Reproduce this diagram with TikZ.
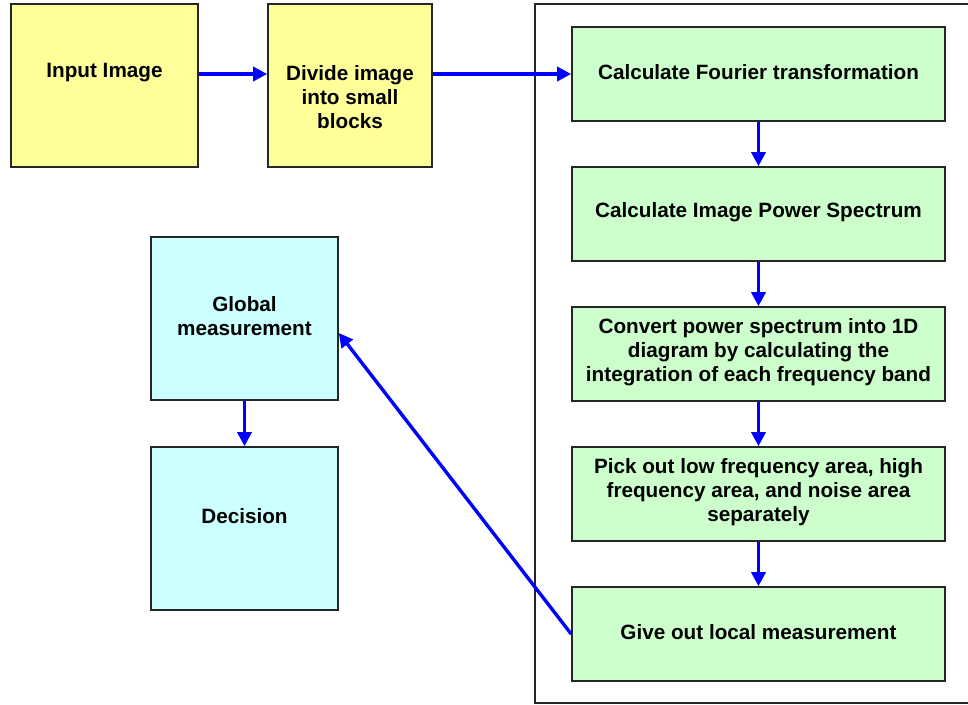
\documentclass[tikz,border=0pt]{standalone}
\usepackage{fontspec}
\setmainfont{Liberation Sans}
\usetikzlibrary{arrows.meta,calc}
\definecolor{boxyellow}{HTML}{FFFF99}
\definecolor{boxgreen}{HTML}{CCFFCC}
\definecolor{boxcyan}{HTML}{CCFFFF}
\definecolor{flowblue}{HTML}{0000FF}
\tikzset{
  box/.style={draw=black!85, line width=1.6pt, rectangle, inner sep=0pt},
  ybox/.style={box, fill=boxyellow, minimum width=187pt, minimum height=163pt},
  dbox/.style={box, fill=boxyellow, minimum width=164pt, minimum height=163pt},
  gbox/.style={box, fill=boxgreen, minimum width=373pt, minimum height=94pt},
  cbox/.style={box, fill=boxcyan, minimum width=187pt, minimum height=163pt},
  txt/.style={align=center, inner sep=0pt, font=\bfseries\fontsize{20.7}{24}\selectfont},
  flow/.style={draw=flowblue, line width=3.4pt, -{Triangle[length=14pt,width=14pt]}},
  frame/.style={draw=black!85, line width=1.6pt}
}
\begin{document}
\begin{tikzpicture}[x=1pt, y=-1pt]
  \useasboundingbox (0,0) rectangle (968,704);
  \fill[white] (0,0) rectangle (968,704);

  % enclosing frame of the per-block processing chain
  \draw[frame] (975,4) -- (535,4) -- (535,703) -- (975,703);

  % input stage
  \node[ybox] (input)  at (104.5,85.5) {};
  \node[dbox] (divide) at (350,85.5) {};
  \node[txt] (t-input)  at (104.5,73) {Input Image};
  \node[txt] (t-divide) at (350,97) {Divide image\\into small\\blocks};

  % per-block processing chain
  \node[gbox] (fourier)  at (758.5,74)  {};
  \node[gbox] (power)    at (758.5,214) {};
  \node[gbox] (convert)  at (758.5,354) {};
  \node[gbox] (pick)     at (758.5,494) {};
  \node[gbox] (local)    at (758.5,634) {};
  \node[txt] (t-fourier) at (758.5,72)  {Calculate Fourier transformation};
  \node[txt] (t-power)   at (758.5,212) {Calculate Image Power Spectrum};
  \node[txt] (t-convert) at (758.5,352) {Convert power spectrum into 1D\\diagram by calculating the\\integration of each frequency band};
  \node[txt] (t-pick)    at (758.5,492) {Pick out low frequency area, high\\frequency area, and noise area\\separately};
  \node[txt] (t-local)   at (758.5,632) {Give out local measurement};

  % global stage
  \node[cbox] (global)   at (244.5,318.5) {};
  \node[cbox] (decision) at (244.5,528.5) {};
  \node[txt] (t-global)   at (244.5,316) {Global\\measurement};
  \node[txt] (t-decision) at (244.5,516) {Decision};

  % connectors
  \draw[flow] (input.east |- fourier.west) -- (divide.west |- fourier.west);
  \draw[flow] (divide.east |- fourier.west) -- (fourier.west);
  \draw[flow] (fourier.south) -- (power.north);
  \draw[flow] (power.south) -- (convert.north);
  \draw[flow] (convert.south) -- (pick.north);
  \draw[flow] (pick.south) -- (local.north);
  \draw[flow] (local.west) -- ($(global.east)+(0,14.5)$);
  \draw[flow] (global.south) -- (decision.north);
\end{tikzpicture}
\end{document}
